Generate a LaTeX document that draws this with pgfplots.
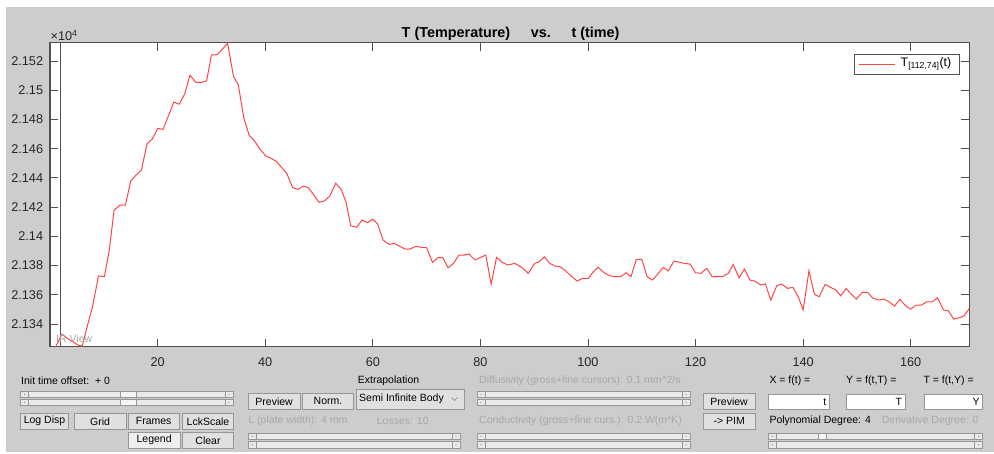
\documentclass[border=0pt]{standalone}
\usepackage{fontspec}
\setmainfont{Liberation Sans}
\usepackage{pgfplots}
\pgfplotsset{compat=1.18}
\definecolor{bg}{RGB}{205,205,205}
\definecolor{axc}{RGB}{80,80,80}
\definecolor{dis}{RGB}{168,168,168}
\definecolor{btnf}{RGB}{224,224,224}
\definecolor{btnp}{RGB}{238,238,238}
\definecolor{btnb}{RGB}{150,150,150}
\definecolor{trk}{RGB}{234,234,234}
\definecolor{lred}{RGB}{255,70,70}
\newcommand{\gf}{\fontsize{10.5}{12}\selectfont}
\newcommand{\btn}[6][btnf]{%
  \draw[btnb,fill=#1,line width=0.8pt] (#2,#3) rectangle (#4,#5);
  \node[font=\gf,inner sep=0pt] at ({(#2+#4)/2},{(#3+#5)/2}) {#6};}
\newcommand{\trk}[4]{%
  \draw[btnb,fill=trk,line width=0.6pt] (#1,#2) rectangle (#3,#4);
  \draw[btnb,fill=trk,line width=0.6pt] (#1,#2) rectangle ({#1+8},#4);
  \draw[btnb,fill=trk,line width=0.6pt] ({#3-8},#2) rectangle (#3,#4);
  \fill[gray] ({#1+4},{(#2+#4)/2}) circle (0.6);
  \fill[gray] ({#3-4},{(#2+#4)/2}) circle (0.6);}
\newcommand{\thumb}[4]{\draw[btnb,fill=white!92!gray,line width=0.6pt] (#1,#2) rectangle (#3,#4);}
\begin{document}
\begin{tikzpicture}
\path[use as bounding box] (0pt,0pt) rectangle (994pt,-454pt);
\fill[white] (0pt,0pt) rectangle (994pt,-454pt);
\fill[bg] (6pt,-7pt) rectangle (994pt,-452pt);
\begin{axis}[
  at={(50.1pt,-346.7pt)}, anchor=south west,
  width=919.2pt, height=304pt, scale only axis,
  xmin=0, xmax=170.9, ymin=21324.5, ymax=21532.5,
  scaled x ticks=false, scaled y ticks=false,
  axis background/.style={fill=white},
  axis line style={axc,line width=1.4pt},
  tick style={axc,line width=0.9pt},
  tick align=inside, major tick length=8pt,
  xtick pos=both, ytick pos=both,
  xtick={20,40,60,80,100,120,140,160},
  xticklabels={20,40,60,80,100,120,140,160},
  ytick={21340,21360,21380,21400,21420,21440,21460,21480,21500,21520},
  yticklabels={2.134,2.136,2.138,2.14,2.142,2.144,2.146,2.148,2.15,2.152},
  ticklabel style={font=\fontsize{12.7}{14}\selectfont, text=black!85},
  xticklabel style={inner sep=0pt, yshift=-10.5pt},
  yticklabel style={inner sep=0pt, xshift=-6.8pt},
]
\addplot[lred, line width=1pt] table[row sep=\\] {
t T \\
1.0 21324 \\ 2.2 21333 \\ 3.7 21329 \\ 5.2 21325.6 \\ 6.0 21325 \\ 6.8 21337 \\
7.9 21352 \\ 9.0 21373 \\ 10.1 21372.4 \\ 11.0 21390.6 \\ 11.9 21418 \\ 13.0 21421.4 \\
14.0 21421.4 \\ 15.0 21438 \\ 16.1 21442.4 \\ 17.0 21445.4 \\ 18.0 21463.2 \\ 19.0 21466.6 \\
20.0 21473.9 \\ 21.0 21473.2 \\ 22.0 21482.4 \\ 23.0 21491.9 \\ 24.0 21490.4 \\ 25.0 21497.2 \\
26.0 21510.2 \\ 27.1 21505.4 \\ 28.1 21505.4 \\ 29.1 21506.3 \\ 30.0 21524.1 \\ 31.1 21524.3 \\
33.0 21532.1 \\ 34.1 21509.3 \\ 35.0 21503.6 \\ 36.0 21481.2 \\ 37.0 21469.3 \\ 38.1 21464.8 \\
39.0 21459.8 \\ 40.1 21455 \\ 41.1 21453.4 \\ 42.1 21451.1 \\ 44.0 21443.1 \\ 45.1 21433.3 \\
46.1 21432.2 \\ 47.1 21434.4 \\ 48.0 21433.3 \\ 48.9 21429 \\ 50.0 21423.3 \\ 51.0 21424.2 \\
52.0 21427.6 \\ 53.1 21436.3 \\ 54.1 21432.2 \\ 55.0 21423.7 \\ 55.9 21407.3 \\ 57.0 21406.2 \\
58.0 21411.2 \\ 59.0 21409.3 \\ 60.0 21411.8 \\ 60.9 21408.4 \\ 61.9 21397.5 \\ 63.0 21394.5 \\
64.0 21395.2 \\ 64.9 21393.4 \\ 66.0 21391.3 \\ 66.9 21391.3 \\ 68.0 21393.2 \\ 69.0 21392.5 \\
70.0 21392.2 \\ 71.1 21382.2 \\ 72.1 21385.4 \\ 73.0 21385.4 \\ 74.0 21378.5 \\ 75.0 21381.5 \\
76.0 21387.2 \\ 77.0 21387.2 \\ 77.9 21387.9 \\ 79.0 21383.8 \\ 79.9 21385.4 \\ 81.0 21387.2 \\
82.0 21367.4 \\ 83.0 21385.6 \\ 84.1 21382.2 \\ 85.1 21380.4 \\ 86.4 21381.5 \\ 87.7 21378.8 \\
88.9 21374.7 \\ 90.1 21381.5 \\ 90.9 21382.6 \\ 91.9 21386 \\ 92.9 21381.5 \\ 93.9 21379.7 \\
94.8 21379.2 \\ 95.9 21376.3 \\ 97.0 21372.4 \\ 98.0 21369.4 \\ 99.0 21371.3 \\ 100.1 21371.3 \\
101.0 21375.8 \\ 101.9 21378.8 \\ 103.0 21375.1 \\ 104.1 21373 \\ 105.1 21372.4 \\ 106.1 21372.4 \\
107.1 21375.1 \\ 108.0 21372.4 \\ 109.0 21384.3 \\ 110.0 21384.3 \\ 111.0 21372.4 \\ 112.0 21370.1 \\
113.1 21374.7 \\ 114.0 21378.8 \\ 114.9 21376.3 \\ 116.0 21383.1 \\ 117.1 21382.2 \\ 118.0 21381.5 \\
119.0 21381 \\ 120.0 21375.1 \\ 121.0 21374.7 \\ 122.1 21378.1 \\ 123.1 21372.4 \\ 124.0 21372.4 \\
125.0 21372.4 \\ 126.1 21374.7 \\ 127.0 21380.8 \\ 128.1 21371.7 \\ 129.1 21377.6 \\ 130.1 21370.1 \\
131.0 21369.4 \\ 132.1 21366.7 \\ 133.0 21367.4 \\ 134.0 21356.4 \\ 135.1 21366.2 \\ 136.0 21367.4 \\
137.1 21364.4 \\ 138.1 21365.1 \\ 139.1 21358.7 \\ 140.0 21349.6 \\ 141.1 21376.5 \\ 142.1 21360.3 \\
143.0 21358.7 \\ 144.1 21367.2 \\ 145.1 21365.1 \\ 146.1 21363.3 \\ 147.0 21359.3 \\ 148.0 21364.3 \\
149.0 21360.3 \\ 149.9 21357.1 \\ 151.0 21361.7 \\ 152.0 21361.7 \\ 153.0 21357.6 \\ 154.1 21356.4 \\
155.0 21357.1 \\ 156.0 21355.2 \\ 157.0 21352.3 \\ 158.0 21356.9 \\ 159.1 21352.3 \\ 160.0 21350.2 \\
161.0 21353 \\ 162.0 21353 \\ 163.0 21355.2 \\ 164.0 21355.2 \\ 165.0 21357.9 \\ 166.1 21349.6 \\
167.0 21349.1 \\ 168.0 21343.4 \\ 169.0 21344.3 \\ 169.9 21345.5 \\ 171.0 21351.1 \\
};
\addplot[axc, line width=1.2pt, forget plot] coordinates {(1.97,21324.5) (1.97,21532.5)};
\end{axis}
\begin{scope}[x=1pt,y=-1pt]
% legend
\draw[axc,fill=white,line width=0.6pt] (854.3,54.3) rectangle (959.3,74);
\draw[lred,line width=1.1pt] (858.5,64.2) -- (894.5,64.2);
\node[anchor=west,inner sep=0pt,font=\fontsize{12.4}{14}\selectfont] at (900.5,64.2) {T\textsubscript{[112,74]}(t)};
% title and exponent
\node[anchor=base,font=\bfseries\fontsize{14.4}{16}\selectfont] at (456,37.3) {T (Temperature)};
\node[anchor=base,font=\bfseries\fontsize{14.4}{16}\selectfont] at (540.8,37.3) {vs.};
\node[anchor=base,font=\bfseries\fontsize{14.4}{16}\selectfont] at (595.5,37.3) {t (time)};
\node[anchor=base west,inner sep=0pt,font=\fontsize{12.7}{14}\selectfont,text=black!85] at (50.5,40.7) {×10\textsuperscript{4}};
\node[anchor=west,inner sep=0pt,font=\gf,text=dis] at (56,338.3) {IR View};
% left controls
\node[anchor=west,inner sep=0pt,font=\gf] at (21,380.7) {Init time offset:\ \ + 0};
\trk{20.7}{391.5}{233}{397.3}
\trk{20.7}{399.3}{233}{405.3}
\thumb{120.7}{391.5}{136}{397.3}
\thumb{120.7}{399.3}{136}{405.3}
\btn{20.7}{413.5}{68.3}{429}{Log Disp}
\btn{74.3}{413.5}{126}{429}{Grid}
\btn{128.3}{413.5}{179}{429}{Frames}
\btn{182.7}{413.5}{233.3}{429}{LckScale}
\btn[btnp]{128.3}{432.5}{180}{448}{Legend}
\btn{182.7}{432.5}{233.3}{448}{Clear}
% middle controls
\btn{248.3}{393.3}{300}{409.3}{Preview}
\btn{302.7}{393.3}{353.3}{409.3}{Norm.}
\node[anchor=west,inner sep=0pt,font=\gf] at (357.7,380.7) {Extrapolation};
\draw[btnb,fill=btnf,line width=0.6pt] (356.7,389.5) rectangle (464.3,409);
\node[anchor=west,inner sep=0pt,font=\gf] at (359,399.2) {Semi Infinite Body};
\draw[gray,line width=0.6pt] (451.5,397.5) -- (454.5,400.5) -- (457.5,397.5);
\node[anchor=west,inner sep=0pt,font=\gf,text=dis] at (248.3,421) {L (plate width): 4 mm};
\node[anchor=west,inner sep=0pt,font=\gf,text=dis] at (376.7,421) {Losses: 10};
\trk{248.3}{433}{460}{439.5}
\trk{248.3}{441.5}{460}{448}
\node[anchor=west,inner sep=0pt,font=\gf,text=dis] at (479,380.7) {Diffusivity (gross+fine cursors): 0.1 mm\textasciicircum 2/s};
\trk{477}{391.5}{690}{397.3}
\trk{477}{399.3}{690}{405.3}
\node[anchor=west,inner sep=0pt,font=\gf,text=dis] at (479,421) {Conductivity (gross+fine curs.): 0.2 W(m*K)};
\trk{477}{433}{690}{439.5}
\trk{477}{441.5}{690}{448}
% right controls
\btn{703.3}{393.3}{755}{409.3}{Preview}
\btn{703.3}{413.5}{755}{429}{-> PIM}
\node[anchor=west,inner sep=0pt,font=\gf] at (769.3,380.7) {X = f(t) =};
\node[anchor=west,inner sep=0pt,font=\gf] at (846,380.7) {Y = f(t,T) =};
\node[anchor=west,inner sep=0pt,font=\gf] at (923.3,380.7) {T = f(t,Y) =};
\draw[btnb,fill=white,line width=0.6pt] (768.3,394.3) rectangle (829.3,409.3);
\node[anchor=east,inner sep=0pt,font=\gf] at (826.5,401.8) {t};
\draw[btnb,fill=white,line width=0.6pt] (846,394.3) rectangle (905,409.3);
\node[anchor=east,inner sep=0pt,font=\gf] at (902.2,401.8) {T};
\draw[btnb,fill=white,line width=0.6pt] (924.3,394.3) rectangle (982.7,409.3);
\node[anchor=east,inner sep=0pt,font=\gf] at (979.9,401.8) {Y};
\node[anchor=west,inner sep=0pt,font=\gf] at (769.3,421) {Polynomial Degree: 4};
\node[anchor=west,inner sep=0pt,font=\gf,text=dis] at (881.7,421) {Derivative Degree: 0};
\trk{768.3}{433}{982.7}{439.5}
\trk{768.3}{441.5}{982.7}{448}
\thumb{818.3}{433}{826}{439.5}
\end{scope}
\end{tikzpicture}
\end{document}
